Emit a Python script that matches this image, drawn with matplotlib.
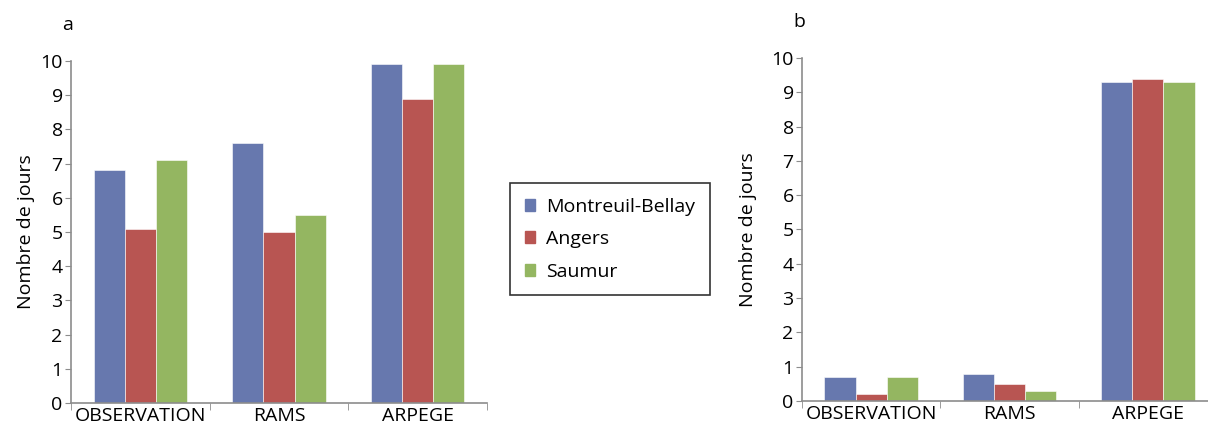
import matplotlib
matplotlib.use("Agg")
import matplotlib.pyplot as plt
import numpy as np

categories = ["OBSERVATION", "RAMS", "ARPEGE"]
series = ["Montreuil-Bellay", "Angers", "Saumur"]
values_a = {
    "Montreuil-Bellay": [6.8, 7.6, 9.9],
    "Angers": [5.1, 5.0, 8.9],
    "Saumur": [7.1, 5.5, 9.9],
}
values_b = {
    "Montreuil-Bellay": [0.7, 0.8, 9.3],
    "Angers": [0.2, 0.5, 9.4],
    "Saumur": [0.7, 0.3, 9.3],
}
colors = ["#6778AE", "#B85552", "#94B661"]
yticks = list(range(0, 11))

plt.rcParams['font.family'] = ['Open Sans', 'DejaVu Sans']
fig = plt.figure(figsize=(12.08, 4.32), dpi=100)
W, H = 1208, 432

def make_ax(l, r, b, t):
    return fig.add_axes([l / W, 1 - b / H, (r - l) / W, (b - t) / H])

axA = make_ax(71, 487, 403, 61)
axB = make_ax(802, 1217, 401, 58)

FS = 14
x = np.arange(len(categories))
bw = 0.225
spine_c = "#8C8C8C"
for ax, vals, lab, lx, ly, lp in [(axA, values_a, "a", 62, 25, 4), (axB, values_b, "b", 793, 22, 10)]:
    for i, s in enumerate(series):
        ax.bar(x + (i - 1) * bw, vals[s], width=bw, color=colors[i], edgecolor="white", linewidth=0.4)
    ax.set_xlim(-0.5, 2.5)
    ax.set_ylim(0, 10)
    ax.set_yticks(yticks)
    ax.set_yticklabels([str(v) for v in yticks], fontsize=FS)
    ax.set_xticks(x)
    ax.set_xticklabels(categories, fontsize=FS)
    ax.set_xticks([-0.5, 0.5, 1.5, 2.5], minor=True)
    ax.tick_params(axis="x", which="major", length=0, pad=3)
    ax.tick_params(axis="x", which="minor", length=5, color=spine_c, direction="out")
    ax.tick_params(axis="y", length=4, color=spine_c, direction="out", pad=2)
    for sp in ["top", "right"]:
        ax.spines[sp].set_visible(False)
    for sp in ["left", "bottom"]:
        ax.spines[sp].set_color(spine_c)
        ax.spines[sp].set_linewidth(1.2)
    ax.set_ylabel("Nombre de jours", fontsize=FS, labelpad=lp)
    fig.text(lx / W, 1 - ly / H, lab, fontsize=FS, ha="left", va="center")

handles = [plt.Rectangle((0, 0), 1, 1, color=c) for c in colors]
leg = fig.legend(handles, series, loc="upper left", bbox_to_anchor=(510 / W, 1 - 183 / H),
                 fontsize=FS, frameon=True, fancybox=False, edgecolor="black",
                 handlelength=0.55, handleheight=0.55, handletextpad=0.55,
                 borderpad=0.75, labelspacing=0.75, borderaxespad=0)
leg.get_frame().set_linewidth(1.2)

fig.savefig("out.png", dpi=100)
